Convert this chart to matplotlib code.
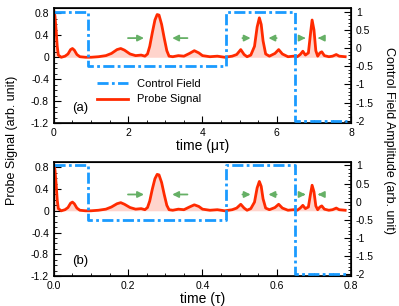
import matplotlib
matplotlib.use("Agg")
import matplotlib.pyplot as plt
from matplotlib.ticker import MultipleLocator

plt.rcParams['font.family'] = ['Liberation Sans', 'DejaVu Sans']

# probe signal (time in units of mu*tau)
time_us = [0, 0.03, 0.06, 0.09, 0.12, 0.2, 0.3, 0.38, 0.45, 0.5, 0.55, 0.62, 0.7, 0.85,
           1.0, 1.2, 1.4, 1.55, 1.7, 1.8, 1.9, 2.05, 2.2, 2.35, 2.45, 2.52, 2.58, 2.65,
           2.72, 2.78, 2.83, 2.9, 2.97, 3.04, 3.1, 3.2, 3.35, 3.5, 3.65, 3.78, 3.9, 4.0,
           4.2, 4.4, 4.6, 4.8, 4.92, 5.03, 5.12, 5.2, 5.3, 5.4, 5.47, 5.53, 5.58, 5.63,
           5.7, 5.8, 5.95, 6.05, 6.15, 6.3, 6.45, 6.55, 6.63, 6.7, 6.77, 6.85, 6.91, 6.95,
           7.0, 7.05, 7.1, 7.16, 7.21, 7.28, 7.4, 7.5, 7.6, 7.68, 7.84]
probe_a = [0.85, 0.75, 0.5, 0.2, 0.04, 0.0, 0.02, 0.06, 0.14, 0.16, 0.13, 0.05, 0.01, 0.0,
           0.0, 0.01, 0.03, 0.07, 0.14, 0.16, 0.13, 0.06, 0.03, 0.04, 0.02, 0.06, 0.2, 0.45,
           0.68, 0.78, 0.77, 0.6, 0.35, 0.12, 0.02, 0.01, 0.03, 0.02, 0.07, 0.12, 0.08, 0.03,
           0.01, 0.02, 0.0, 0.02, 0.05, 0.14, 0.05, 0.01, 0.04, 0.2, 0.55, 0.72, 0.6, 0.3,
           0.06, 0.02, 0.07, 0.14, 0.06, 0.01, 0.02, 0.01, 0.05, 0.11, 0.04, 0.08, 0.45, 0.68,
           0.5, 0.12, 0.02, 0.08, 0.1, 0.03, 0.01, 0.02, 0.05, 0.02, 0.01]

# second panel, time in units of tau
time_tau = [0, 0.003, 0.006, 0.009, 0.012, 0.02, 0.03, 0.038, 0.045, 0.05, 0.055, 0.062, 0.07, 0.085,
            0.1, 0.12, 0.14, 0.155, 0.17, 0.18, 0.19, 0.205, 0.22, 0.235, 0.245, 0.252, 0.258, 0.265,
            0.272, 0.278, 0.283, 0.29, 0.297, 0.304, 0.31, 0.32, 0.335, 0.35, 0.365, 0.378, 0.39, 0.4,
            0.42, 0.44, 0.46, 0.48, 0.492, 0.503, 0.512, 0.52, 0.53, 0.54, 0.547, 0.553, 0.558, 0.563,
            0.57, 0.58, 0.595, 0.605, 0.615, 0.63, 0.645, 0.655, 0.663, 0.67, 0.677, 0.685, 0.691, 0.695,
            0.7, 0.705, 0.71, 0.716, 0.721, 0.728, 0.74, 0.75, 0.76, 0.768, 0.784]
probe_b = [0.85, 0.75, 0.5, 0.2, 0.04, 0.0, 0.02, 0.06, 0.14, 0.16, 0.13, 0.05, 0.01, 0.0,
           0.0, 0.01, 0.03, 0.07, 0.13, 0.15, 0.12, 0.06, 0.03, 0.04, 0.02, 0.06, 0.18, 0.4,
           0.59, 0.67, 0.66, 0.52, 0.3, 0.1, 0.02, 0.01, 0.03, 0.02, 0.07, 0.11, 0.08, 0.03,
           0.01, 0.02, 0.0, 0.02, 0.05, 0.12, 0.05, 0.01, 0.04, 0.16, 0.42, 0.54, 0.45, 0.22,
           0.05, 0.02, 0.06, 0.12, 0.05, 0.01, 0.02, 0.01, 0.05, 0.1, 0.04, 0.07, 0.32, 0.47,
           0.35, 0.09, 0.02, 0.07, 0.09, 0.03, 0.01, 0.02, 0.05, 0.02, 0.01]

# control field (right axis)
ctrl_us = [0, 0.92, 0.92, 4.63, 4.63, 6.48, 6.48, 7.9]
ctrl_tau = [0, 0.092, 0.092, 0.463, 0.463, 0.648, 0.648, 0.79]
ctrl_amp = [1, 1, -0.5, -0.5, 1, 1, -2, -2]

# green arrows (start, end) in time units
arrows_us = [(1.92, 2.5), (3.67, 3.11), (5.0, 5.37), (6.07, 5.7), (6.6, 6.85), (7.24, 7.03)]
arrows_tau = [(0.192, 0.25), (0.367, 0.311), (0.5, 0.537), (0.607, 0.57), (0.66, 0.685), (0.724, 0.703)]

red = '#ff2a00'
blue = '#1a9bff'
green = '#66b066'

fig = plt.figure(figsize=(3.99, 3.06), dpi=100)
ax1 = fig.add_axes([0.135, 0.598, 0.745, 0.376])
ax2 = fig.add_axes([0.135, 0.098, 0.745, 0.373])


def draw_panel(ax, t, probe, ct, arrows, arrow_y, xmax, xmajor, xminor, xlabel, tag, legend):
    ax.fill_between(t, probe, 0, color=red, alpha=0.2, lw=0)
    lp, = ax.plot(t, probe, color=red, lw=2, label='Probe Signal')
    ax.set_xlim(0, xmax)
    ax.set_ylim(-1.2, 0.9)
    ax.set_yticks([-1.2, -0.8, -0.4, 0, 0.4, 0.8])
    ax.set_yticklabels(['-1.2', '-0.8', '-0.4', '0', '0.4', '0.8'])
    ax.xaxis.set_major_locator(MultipleLocator(xmajor))
    ax.xaxis.set_minor_locator(MultipleLocator(xminor))
    ax.yaxis.set_minor_locator(MultipleLocator(0.1))
    ax.tick_params(which='both', direction='in', labelsize=7.5, top=False, right=False)
    ax.tick_params(which='major', length=5)
    ax.tick_params(which='minor', length=2.5)
    ax.set_xlabel(xlabel, fontsize=10, labelpad=1)
    for a, b in arrows:
        ax.annotate('', xy=(b, arrow_y), xytext=(a, arrow_y),
                    arrowprops=dict(arrowstyle='-|>', color=green, lw=1.3, mutation_scale=9))
    ax.text(0.09 * xmax, -0.93, tag, fontsize=9.5, ha='center', va='center')

    axr = ax.twinx()
    lc, = axr.plot(ct, ctrl_amp, color=blue, lw=2, ls=(0, (4, 1.2, 1, 1.2)), label='Control Field')
    axr.set_ylim(-2.06, 1.1)
    axr.set_yticks([-2, -1.5, -1, -0.5, 0, 0.5, 1])
    axr.set_yticklabels(['-2', '-1.5', '-1', '-0.5', '0', '0.5', '1'])
    axr.yaxis.set_minor_locator(MultipleLocator(0.1))
    axr.tick_params(which='both', direction='in', labelsize=7.5)
    axr.tick_params(which='major', length=5)
    axr.tick_params(which='minor', length=2.5)
    for s in ax.spines.values():
        s.set_linewidth(1.2)
    if legend:
        ax.legend([lc, lp], ['Control Field', 'Probe Signal'], frameon=False, fontsize=8,
                  loc='upper left', bbox_to_anchor=(0.11, 0.47), handlelength=2.8,
                  handletextpad=0.8, labelspacing=0.5)


draw_panel(ax1, time_us, probe_a, ctrl_us, arrows_us, 0.35, 8, 2, 0.5, 'time (\u03bc\u03c4)', '(a)', True)
draw_panel(ax2, time_tau, probe_b, ctrl_tau, arrows_tau, 0.3, 0.8, 0.2, 0.05, 'time (\u03c4)', '(b)', False)

fig.text(0.03, 0.54, 'Probe Signal (arb. unit)', rotation=90, fontsize=9, ha='center', va='center')
fig.text(0.975, 0.54, 'Control Field Amplitude (arb. unit)', rotation=270, fontsize=9,
         ha='center', va='center')

fig.savefig('out.png', dpi=100)
